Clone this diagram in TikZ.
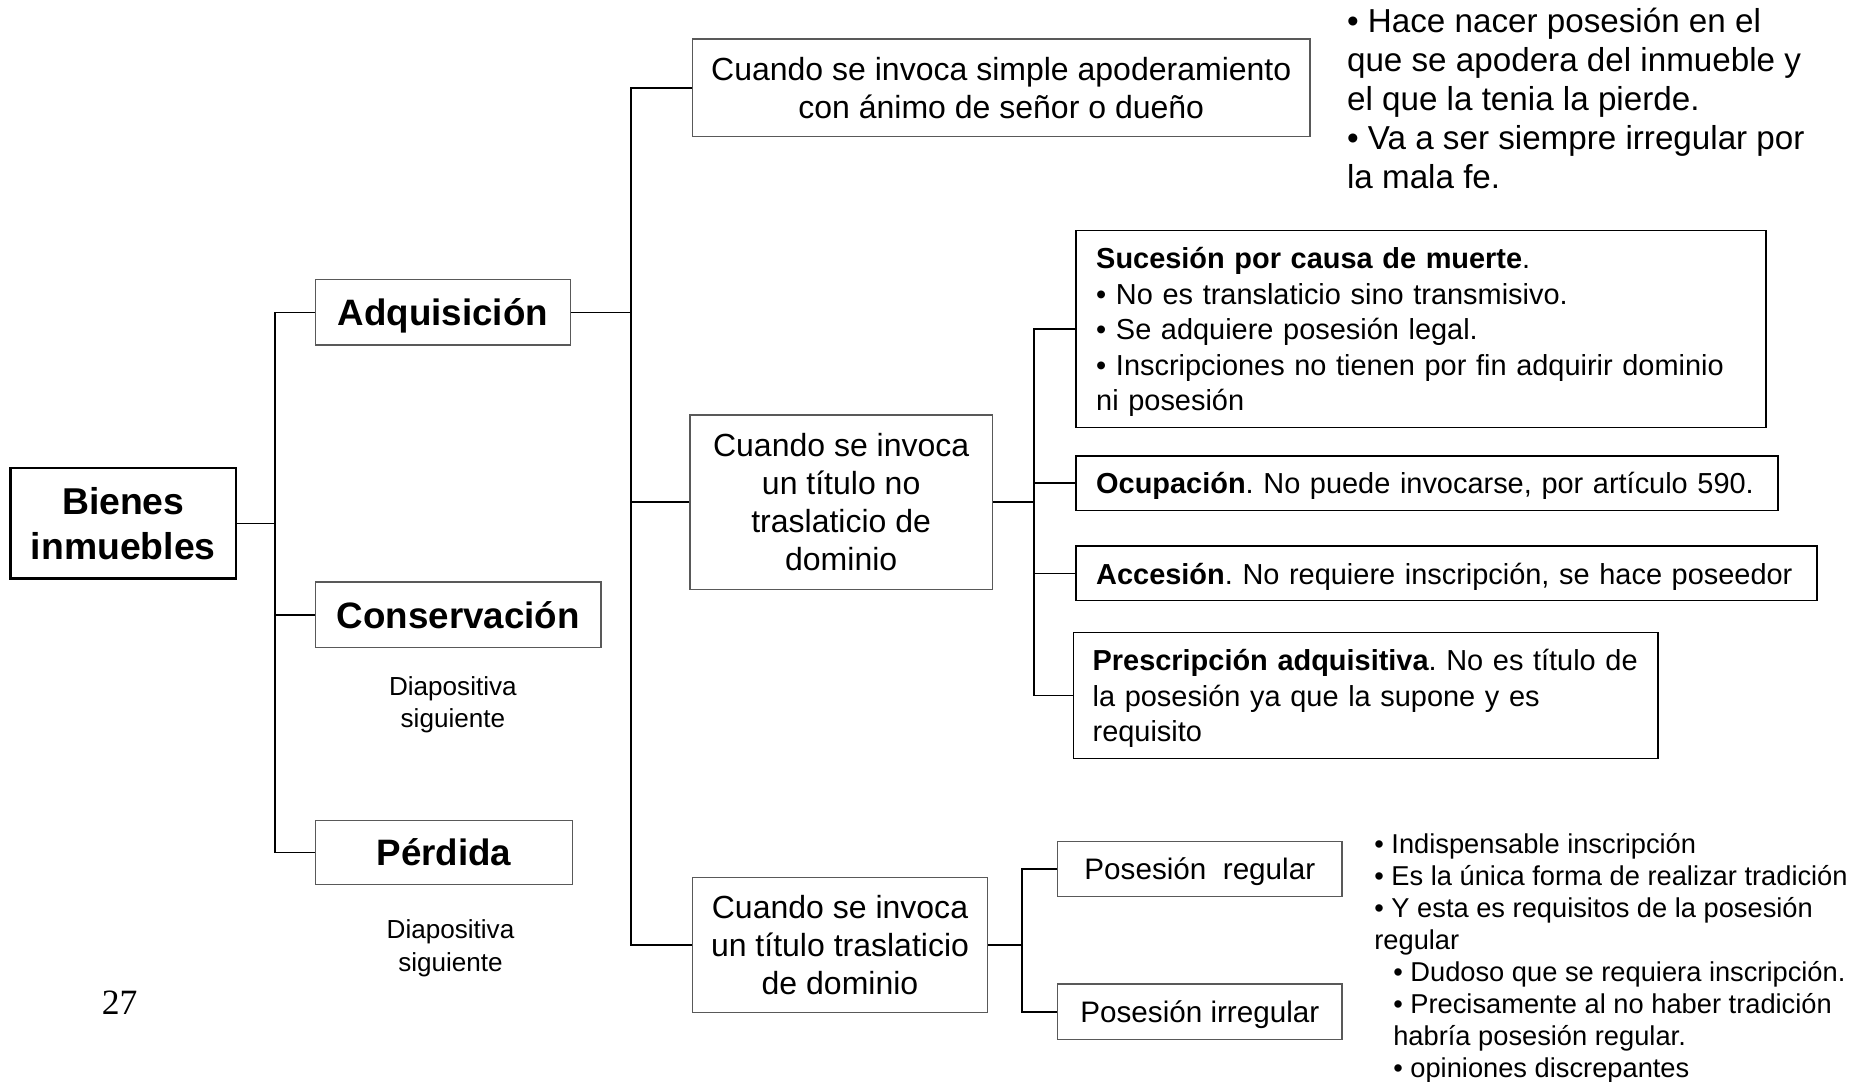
\documentclass[tikz,border=0pt]{standalone}
\usepackage{fontspec}
\setmainfont{Liberation Sans}
\newfontfamily\timesf{Liberation Serif}
\newcommand\lne[1]{\mbox{#1}}
\frenchspacing
\begin{document}
\frenchspacing
\begin{tikzpicture}[x=1pt,y=-1pt,
  conn/.style={line width=1.4pt, black},
  rootbox/.style={draw=black, line width=2pt, inner sep=0pt, align=center},
  headbox/.style={draw=black!65, line width=1.1pt, inner sep=0pt, align=center, text depth=0pt, font=\fontsize{31}{37}\selectfont\bfseries},
  midbox/.style={draw=black!65, line width=1.1pt, inner sep=0pt, align=center, font=\fontsize{27}{32}\selectfont},
  leafbox/.style={draw=black, line width=1.2pt, inner ysep=0pt, inner xsep=17pt, align=left, anchor=north west, font=\fontsize{24.4}{30}\selectfont},
  posbox/.style={draw=black!65, line width=1.1pt, inner sep=0pt, align=center, minimum width=240pt, text depth=0pt, font=\fontsize{25}{30}\selectfont},
  freetext/.style={inner sep=0pt, align=left, anchor=base west}
]
\useasboundingbox (0,0) rectangle (1568,912);

% root
\node[rootbox, minimum width=190pt, minimum height=93pt, font=\fontsize{31.5}{38}\selectfont\bfseries] (bienes) at (104,441.5) {Bienes\\inmuebles};

% first level
\node[headbox, minimum width=215pt, minimum height=55pt] (adq) at (373.5,263.5) {Adquisición};
\node[headbox, minimum width=241pt, minimum height=55pt] (cons) at (386.5,518.5) {Conservación};
\node[headbox, minimum width=217pt, minimum height=54pt] (perd) at (374.5,719) {Pérdida};

\node[inner sep=0pt, align=center, anchor=base, font=\fontsize{22}{27}\selectfont] (dia1) at (382,614) {Diapositiva\\siguiente};
\node[inner sep=0pt, align=center, anchor=base, font=\fontsize{22}{27}\selectfont] (dia2) at (380,819) {Diapositiva\\siguiente};
\node[inner sep=0pt, anchor=base, font=\timesf\fontsize{30}{36}\selectfont] (pg) at (101,856) {27};

% second level
\node[midbox, minimum width=521pt, minimum height=82pt] (boxA) at (844.5,74) {Cuando se invoca simple apoderamiento\\con ánimo de señor o dueño};
\node[midbox, minimum width=255pt, minimum height=147pt] (boxB) at (709.5,423.5) {Cuando se invoca\\un título no\\traslaticio de\\dominio};
\node[midbox, minimum width=249pt, minimum height=114pt] (boxC) at (708.5,797) {Cuando se invoca\\un título traslaticio\\de dominio};

\node[freetext, font=\fontsize{28}{33}\selectfont] (noteA) at (1136,159) {• Hace nacer posesión en el\\que se apodera del inmueble y\\el que la tenia la pierde.\\• Va a ser siempre irregular por\\la mala fe.};

% third level (titulo no traslaticio)
\node[leafbox, text width=548pt, text depth=120pt, minimum height=166pt] (suc) at (907,194) {\lne{\textbf{Sucesión por causa de muerte}.}\\\lne{• No es translaticio sino transmisivo.}\\\lne{• Se adquiere posesión legal.}\\\lne{• Inscripciones no tienen por fin adquirir dominio}\\\lne{ni posesión}};
\node[leafbox, text width=558pt, text depth=0pt, minimum height=46pt] (ocu) at (907,384) {\lne{\textbf{Ocupación}. No puede invocarse, por artículo 590.}};
\node[leafbox, text width=591pt, text depth=0pt, minimum height=46pt] (acc) at (907,460) {\lne{\textbf{Accesión}. No requiere inscripción, se hace poseedor}};
\node[leafbox, inner xsep=16pt, text width=461pt, text depth=60pt, minimum height=106pt] (pre) at (905,533) {\lne{\textbf{Prescripción adquisitiva}. No es título de}\\\lne{la posesión ya que la supone y es}\\\lne{requisito}};

% third level (titulo traslaticio)
\node[posbox, minimum height=46pt] (preg) at (1012,733) {Posesión\hspace{0.28em} regular};
\node[posbox, minimum height=47pt] (pirr) at (1012,853.5) {Posesión irregular};

\node[freetext, font=\fontsize{23}{27}\selectfont] (noteC) at (1159,909) {• Indispensable inscripción\\• Es la única forma de realizar tradición\\• Y esta es requisitos de la posesión\\regular\\\hspace*{16pt}• Dudoso que se requiera inscripción.\\\hspace*{16pt}• Precisamente al no haber tradición\\\hspace*{16pt}habría posesión regular.\\\hspace*{16pt}• opiniones discrepantes};

% connectors
\coordinate (j1) at (232,441.5);
\draw[conn] (bienes.east) -- (j1);
\draw[conn] (j1) |- (adq.west);
\draw[conn] (j1) |- (cons.west);
\draw[conn] (j1) |- (perd.west);

\coordinate (j2) at (532,263.5);
\draw[conn] (adq.east) -- (j2);
\draw[conn] (j2) |- (boxA.west);
\draw[conn] (j2) |- (boxB.west);
\draw[conn] (j2) |- (boxC.west);

\coordinate (j3) at (872,423.5);
\draw[conn] (boxB.east) -- (j3);
\draw[conn] (j3) |- (suc.west);
\draw[conn] (j3) |- (ocu.west);
\draw[conn] (j3) |- (acc.west);
\draw[conn] (j3) |- (pre.west);

\coordinate (j4) at (862,797);
\draw[conn] (boxC.east) -- (j4);
\draw[conn] (j4) |- (preg.west);
\draw[conn] (j4) |- (pirr.west);
\end{tikzpicture}
\end{document}
